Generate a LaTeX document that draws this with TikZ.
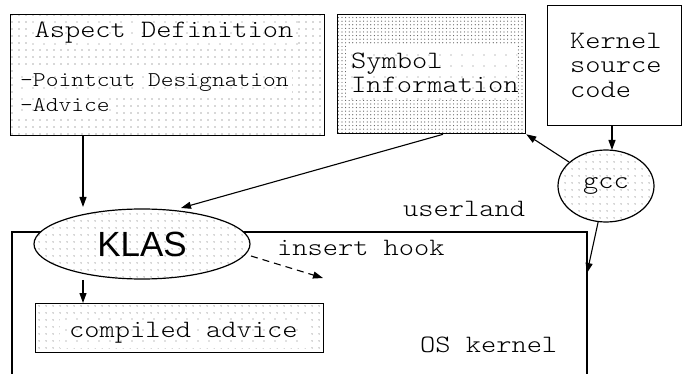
\documentclass[tikz,border=0pt]{standalone}
\usepackage{fontspec}
\setmonofont{lmmonolt10-regular.otf}[FakeStretch=1.16]
\newfontfamily\klasfont{Liberation Sans}
\usetikzlibrary{arrows.meta,patterns.meta,shapes.geometric}

\tikzset{
  tt/.style={font=\ttfamily\fontsize{25}{24.5}\selectfont, inner sep=0pt},
  smalltt/.style={font=\ttfamily\fontsize{21}{21}\selectfont, inner sep=0pt},
  sparse/.style={pattern={Dots[distance=6.5pt,radius=0.6pt]}, pattern color=black!65},
  dense/.style={pattern={Dots[distance=3.6pt,radius=0.6pt]}, pattern color=black!65},
  textbg/.style={preaction={fill=white}, pattern={Dots[distance=11pt,radius=0.6pt]}, pattern color=black!50},
  box/.style={draw, line width=1.3pt, preaction={fill=white}, inner sep=0pt, anchor=north west},
  blob/.style={ellipse, draw, line width=1.2pt, preaction={fill=white}, inner sep=0pt},
  arr/.style={line width=1.1pt, -{Triangle[length=10pt,width=7pt]}},
}

\begin{document}
\begin{tikzpicture}[x=1pt, y=-1pt]
\useasboundingbox (0,0) rectangle (683,374);

% kernel region boundary (open at the bottom)
\coordinate (osBL) at (12,380);
\coordinate (osTL) at (12,232);
\coordinate (osTR) at (587,232);
\coordinate (osBR) at (587,380);
\draw[line width=1.2pt] (osBL) -- (osTL) -- (osTR) -- (osBR);

% source boxes
\node[box, sparse, minimum width=314pt, minimum height=121pt] (asp) at (10,14) {};
\node[box, dense, minimum width=188pt, minimum height=119pt] (sym) at (337,14) {};
\node[box, minimum width=134pt, minimum height=120pt] (ker) at (547,5) {};

% box texts
\node[tt, textbg, inner xsep=5pt, inner ysep=5pt] (asptitle) at (164,33) {Aspect Definition};
\node[smalltt, textbg, anchor=base west, inner xsep=3pt, inner ysep=4pt] (aspl1) at (17,87) {-Pointcut Designation};
\node[smalltt, textbg, anchor=base west, inner xsep=3pt, inner ysep=4pt] (aspl2) at (17,112) {-Advice};
\node[tt, textbg, anchor=north west, minimum width=171pt, minimum height=55pt,
      inner xsep=5pt, align=left, text width=161pt] (symtxt) at (346,45) {Symbol\\Information};
\node[tt, anchor=north west, align=left] (kertxt) at (570,33) {Kernel\\source\\code};

% processing ellipses
\node[blob, sparse, minimum width=96pt, minimum height=72pt,
      font=\ttfamily\fontsize{25}{25}\selectfont] (gcc) at (606,186) {gcc};
\node[blob, sparse, minimum width=216pt, minimum height=70pt,
      font=\klasfont\fontsize{35}{35}\selectfont] (klas) at (142,244) {KLAS};

% compiled advice inside the kernel
\node[box, sparse, minimum width=288pt, minimum height=49pt] (cmp) at (35,303) {};
\node[tt, textbg, anchor=base west, inner xsep=9pt, inner ysep=5pt] (cmptxt) at (60,337) {compiled advice};

% region and hook labels
\node[tt, anchor=base west] (user) at (403,217) {userland};
\node[tt, anchor=base west] (hook) at (277,255) {insert hook};
\node[tt, anchor=base west] (oskern) at (420,352) {OS kernel};

% connector end points
\coordinate (klasIn1) at (83,207);
\coordinate (klasIn2) at (181,208);
\coordinate (klasOut) at (83,280);
\coordinate (hookFrom) at (251,256);
\coordinate (hookTo) at (323,278);
\coordinate (gccIn) at (612,150);
\coordinate (kernIn) at (587,273);

% connectors
\draw[arr] (asp.south -| klasIn1) -- (klasIn1);
\draw[arr] (sym.south -| 443,0) -- (klasIn2);
\draw[arr] (klasOut) -- (cmp.north -| klasOut);
\draw[arr, dashed, dash pattern=on 7pt off 5pt] (hookFrom) -- (hookTo);
\draw[arr] (ker.south -| gccIn) -- (gccIn);
\draw[arr] (gcc) -- (sym.south east);
\draw[arr] (gcc) -- (kernIn);
\end{tikzpicture}
\end{document}
